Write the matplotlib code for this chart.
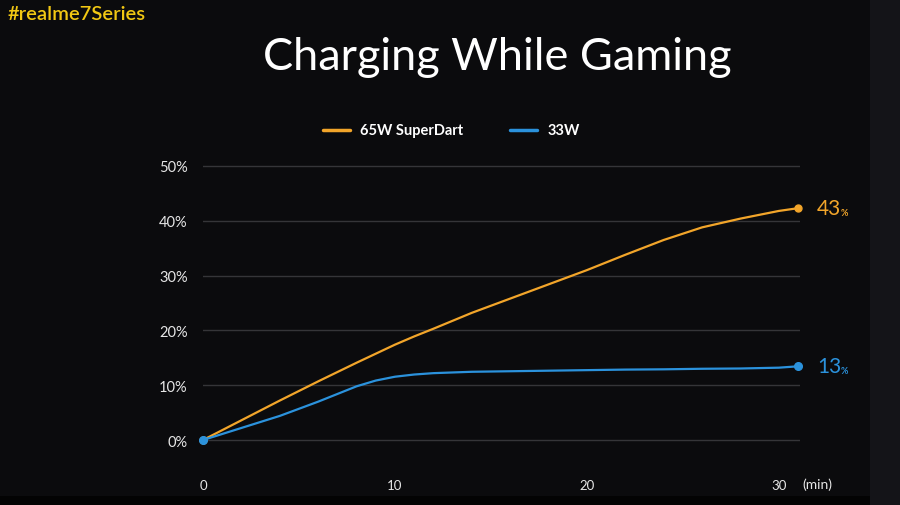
import matplotlib.pyplot as plt
from matplotlib.patches import Rectangle

# values (minutes, % charged)
minutes = [0, 2, 4, 6, 8, 9, 10, 11, 12, 14, 16, 18, 20, 22, 24, 26, 28, 30, 31]
superdart_65w = [0, 3.6, 7.2, 10.7, 14.1, 15.75, 17.4, 18.9, 20.3, 23.2, 25.8, 28.4,
                 31.0, 33.8, 36.5, 38.8, 40.4, 41.8, 42.3]
charger_33w = [0, 2.2, 4.4, 7.0, 9.8, 10.85, 11.55, 11.95, 12.2, 12.45, 12.55, 12.65,
               12.75, 12.85, 12.9, 13.0, 13.05, 13.2, 13.45]

y_ticks = [0, 10, 20, 30, 40, 50]
x_ticks = [0, 10, 20, 30]
series_names = ['65W SuperDart', '33W']
end_labels = ['43', '13']

ORANGE = '#f2a52a'
BLUE = '#2b92dc'
BG = '#0b0b0d'
FONT = 'Lato'

fig = plt.figure(figsize=(9, 5.06), dpi=100)
fig.patch.set_facecolor(BG)
# the slightly lighter strip on the right and the black band at the bottom
fig.add_artist(Rectangle((870 / 900, 0), 30 / 900, 1, transform=fig.transFigure,
                         facecolor='#141418', edgecolor='none', zorder=0))
fig.add_artist(Rectangle((0, 0), 870 / 900, 9 / 506, transform=fig.transFigure,
                         facecolor='#030303', edgecolor='none', zorder=0))

ax = fig.add_axes([203 / 900, 1 - 446.5 / 506, 597 / 900, 285 / 506])
ax.set_facecolor('none')
ax.set_xlim(0, 31.1)
ax.set_ylim(-1, 51)

for y in y_ticks:
    ax.axhline(y, color='#353538', lw=1.0, zorder=1)

ax.plot(minutes, superdart_65w, color=ORANGE, lw=1.6, zorder=3, solid_joinstyle='round')
ax.plot(minutes, charger_33w, color=BLUE, lw=1.6, zorder=3, solid_joinstyle='round')
ax.plot([minutes[0], minutes[-1]], [superdart_65w[0], superdart_65w[-1]], 'o',
        color=ORANGE, ms=5, zorder=4, clip_on=False)
ax.plot([minutes[0], minutes[-1]], [charger_33w[0], charger_33w[-1]], 'o',
        color=BLUE, ms=5.5, zorder=5, clip_on=False)

for s in ax.spines.values():
    s.set_visible(False)
ax.tick_params(length=0)
ax.set_yticks(y_ticks)
ax.set_yticklabels([f'{v}%' for v in y_ticks], color='#e6e6e6', fontsize=10.5,
                   fontfamily=FONT)
ax.tick_params(axis='y', pad=11)
ax.set_xticks(x_ticks)
ax.set_xticklabels([str(v) for v in x_ticks], color='#e6e6e6', fontsize=9.5,
                   fontfamily=FONT)
ax.tick_params(axis='x', pad=24)
fig.text(802 / 900, 1 - 485 / 506, '(min)', color='#e6e6e6', fontsize=10,
         fontfamily=FONT, va='center', ha='left')

# end-of-line values
for val, lab, col in [(superdart_65w[-1], end_labels[0], ORANGE),
                      (charger_33w[-1], end_labels[1], BLUE)]:
    ax.annotate(lab, (minutes[-1], val), xytext=(13.5, 0), textcoords='offset points',
                color=col, fontsize=15, fontfamily=FONT,
                va='center', ha='left', annotation_clip=False)
    ax.annotate('%', (minutes[-1], val), xytext=(30.5, -3), textcoords='offset points',
                color=col, fontsize=6.5, fontfamily=FONT, fontweight='bold',
                va='center', ha='left', annotation_clip=False)

# legend drawn by hand to match the slide
for (x0, x1, tx), name, col in zip([(323, 350, 360), (510, 537, 548)], series_names,
                                   [ORANGE, BLUE]):
    fig.add_artist(plt.Line2D([x0 / 900, x1 / 900], [1 - 131 / 506] * 2, color=col, lw=2.5,
                              solid_capstyle='round', transform=fig.transFigure))
    fig.text(tx / 900, 1 - 131 / 506, name, color='white', fontsize=10.5,
             fontfamily=FONT, fontweight='bold', va='center', ha='left')

fig.text(497 / 900, 1 - 57 / 506, 'Charging While Gaming', color='white', fontsize=32.5,
         fontfamily=FONT, ha='center', va='center')
fig.text(8 / 900, 1 - 15 / 506, '#realme7Series', color='#f2c813', fontsize=14.5,
         fontfamily=FONT, fontweight='semibold', ha='left', va='center')

fig.savefig('out.png', dpi=100, facecolor=fig.get_facecolor())
